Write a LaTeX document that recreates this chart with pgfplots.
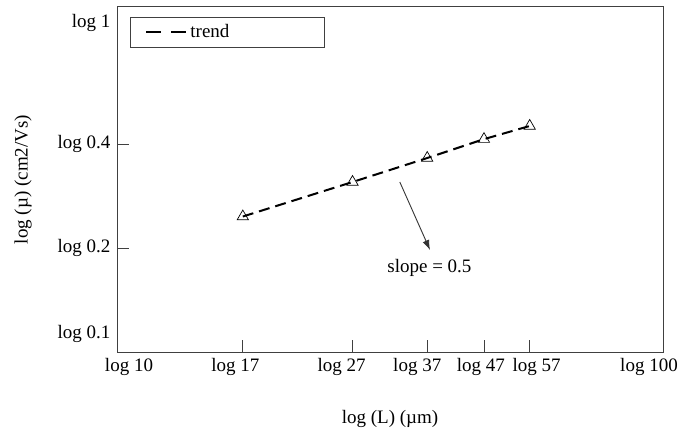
\documentclass[border=0pt]{standalone}
\usepackage{pgfplots}
\usepackage{pgfplotstable}
\pgfplotsset{compat=1.18}
\usetikzlibrary{arrows.meta}
\usepackage{fontspec}
\setmainfont{Liberation Serif}

% mobility versus channel length
\pgfplotstableread{
L   mu
17  0.247
27  0.311
37  0.365
47  0.414
57  0.452
}\mobility

\begin{document}
\fontsize{19}{22}\selectfont
\begin{tikzpicture}
\useasboundingbox (-117pt,-81pt) rectangle (563pt,352pt);
\begin{axis}[
  at={(0pt,0pt)}, anchor=south west,
  scale only axis, width=546pt, height=345pt,
  xmode=log, ymode=log,
  xmin=10, xmax=100, ymin=0.1, ymax=1,
  xtick={17,27,37,47,57},
  xticklabels={log 17\hspace*{15pt}, log 27\hspace*{22pt}, log 37\hspace*{20pt},
               log 47\hspace*{6pt}, \hspace*{14pt}log 57},
  extra x ticks={10,100},
  extra x tick labels={\hspace*{24pt}log 10, log 100\hspace*{28pt}},
  extra x tick style={major tick length=0pt},
  ytick={0.2,0.4},
  yticklabels={log 0.2, log 0.4},
  extra y ticks={0.1,1},
  extra y tick labels={\raisebox{18pt}[\height][\depth]{log 0.1},
                       \raisebox{-16pt}[\height][\depth]{log 1}},
  extra y tick style={major tick length=0pt},
  minor xtick={}, minor ytick={},
  tick align=inside, tick pos=left,
  major tick length=12pt,
  axis line style={draw=black!75, line width=1pt},
  every tick/.style={draw=black!75, line width=0.8pt},
  every axis x label/.style={at={(axis description cs:0.5,-0.194)}, anchor=center},
  every axis y label/.style={at={(axis description cs:-0.172,0.5)}, rotate=90, anchor=center},
  xlabel={log (L) (µm)},
  ylabel={log (µ) (cm2/Vs)},
  legend style={at={(rel axis cs:0.0238,0.971)}, anchor=north west,
    draw=black!75, line width=0.8pt, inner xsep=15pt, inner ysep=5pt},
  legend image code/.code={\draw[#1, dash pattern=on 15pt off 10pt] (0pt,0pt) -- (41pt,0pt);},
]
\addplot[black, line width=2pt, dash pattern=on 11pt off 6pt] table[x=L, y=mu] {\mobility};
\addlegendentry{\makebox[117pt][l]{trend}}
\addplot[only marks, mark=triangle, mark size=6.5pt,
  mark options={line width=0.7pt, draw=black, fill=none}, forget plot]
  table[x=L, y=mu] {\mobility};
\draw[black!80, line width=0.9pt, -{Latex[length=10pt,width=7pt]}]
  (axis cs:32.96,0.311) -- (axis cs:37.44,0.1975);
\node at (axis cs:37.35,0.1751) {slope = 0.5};
\end{axis}
\end{tikzpicture}
\end{document}
